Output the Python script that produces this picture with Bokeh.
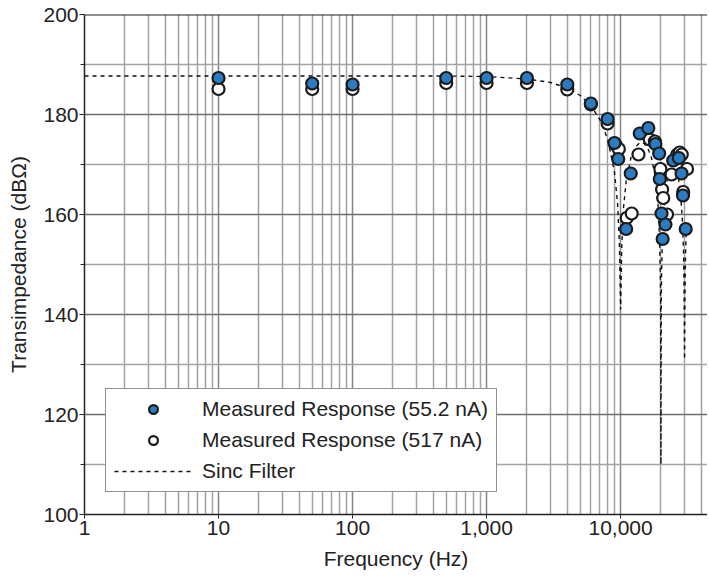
from bokeh.plotting import figure
from bokeh.models import Range1d, FixedTicker, Legend, LegendItem, Span, ColumnDataSource
from bokeh.embed import file_html
from bokeh.resources import INLINE

# ---- data ----
freq_low = [10, 50, 100, 500, 1000, 2000, 4000, 6000, 8000, 9000, 9600,
            11000, 11900, 13900, 16100, 18200, 19400, 19600, 20200, 20600,
            21600, 24700, 27200, 28500, 29200, 30600]
resp_low = [187.3, 186.2, 186.0, 187.3, 187.3, 187.3, 186.0, 182.2, 179.1, 174.3, 171.1,
            157.1, 168.2, 176.2, 177.3, 174.1, 172.2, 167.1, 160.2, 155.1,
            158.0, 170.8, 171.3, 168.2, 163.8, 157.1]

freq_high = [10, 50, 100, 500, 1000, 2000, 4000, 6000, 8000, 9200, 9700,
             11100, 12100, 13600, 16500, 18000, 19800, 20400, 20800, 22200,
             24000, 26500, 27600, 28600, 29300, 31300]
resp_high = [185.1, 185.1, 185.1, 186.3, 186.3, 186.3, 185.0, 182.0, 178.2, 173.9, 173.1,
             159.3, 160.2, 172.0, 175.0, 174.6, 169.1, 165.0, 163.3, 160.0,
             168.0, 172.0, 172.4, 172.0, 164.5, 169.1]

sinc_freq = [1, 10, 100, 500, 1000, 2000, 3000, 4000, 5000, 6000, 7000, 8000, 9000,
             9500, 9800, 9900, 10000, 10100, 10200, 10500, 11000, 12000, 13000, 14000,
             15000, 16000, 17000, 18000, 19000, 19500, 19800, 19900, 20000, 20100, 20200,
             20500, 21000, 22000, 23000, 24000, 25000, 26000, 27000, 28000, 29000, 29500,
             29800, 30000, 30200, 30500, 31000]
sinc_db = [187.7, 187.7, 187.7, 187.7, 187.6, 187.1, 186.4, 185.3, 183.8, 181.8, 179.0, 175.1, 168.5,
           162.1, 153.9, 147.8, 141.0, 147.6, 153.5, 161.2, 166.7, 171.6, 173.6, 174.4,
           174.2, 173.2, 171.3, 168.0, 162.0, 155.8, 147.8, 141.7, 110.0, 141.6, 147.6,
           155.4, 161.1, 166.3, 168.7, 169.7, 169.8, 169.0, 167.3, 164.2, 158.3, 152.2,
           144.2, 131.0, 144.1, 152.0, 157.7]

x_major_ticks = [1, 10, 100, 1000, 10000]
x_tick_labels = ["1", "10", "100", "1,000", "10,000"]
x_minor_ticks = [2, 3, 4, 5, 6, 7, 8, 9,
                 20, 30, 40, 50, 60, 70, 80, 90,
                 200, 300, 400, 500, 600, 700, 800, 900,
                 2000, 3000, 4000, 5000, 6000, 7000, 8000, 9000,
                 20000, 30000, 40000]
y_major_ticks = [100, 120, 140, 160, 180, 200]
y_minor_ticks = [110, 130, 150, 170, 190]

labels = ["Measured Response (55.2 nA)", "Measured Response (517 nA)", "Sinc Filter"]

FONT = "Liberation Sans"
TXT = "#222222"
BLUE = "#2a7bbf"

p = figure(width=707, height=578, x_axis_type="log",
           x_range=Range1d(1, 44500), y_range=Range1d(100, 200),
           output_backend="svg", toolbar_location=None,
           min_border_left=84, min_border_right=0, min_border_top=14, min_border_bottom=64)
p.outline_line_color = None
p.background_fill_color = "white"
p.border_fill_color = "white"

xt = FixedTicker(ticks=x_major_ticks, minor_ticks=x_minor_ticks)
yt = FixedTicker(ticks=y_major_ticks, minor_ticks=y_minor_ticks)
p.xaxis.ticker = xt
p.yaxis.ticker = yt
p.xgrid.ticker = xt
p.ygrid.ticker = yt
p.xaxis.major_label_overrides = dict(zip(x_major_ticks, x_tick_labels))

p.xgrid.grid_line_color = "#858585"
p.xgrid.grid_line_width = 1.5
p.xgrid.minor_grid_line_color = "#a3a3a3"
p.xgrid.minor_grid_line_width = 1.5
p.ygrid.grid_line_color = "#6e6e6e"
p.ygrid.grid_line_width = 1.5
p.ygrid.minor_grid_line_color = "#a3a3a3"
p.ygrid.minor_grid_line_width = 1.5

for ax in (p.xaxis, p.yaxis):
    ax.axis_line_color = TXT
    ax.axis_line_width = 1.5
    ax.major_tick_line_color = TXT
    ax.minor_tick_line_color = TXT
    ax.major_label_text_font = FONT
    ax.major_label_text_font_size = "21px"
    ax.major_label_text_color = TXT
    ax.axis_label_text_font = FONT
    ax.axis_label_text_font_size = "21px"
    ax.axis_label_text_font_style = "normal"
    ax.axis_label_text_color = TXT

p.xaxis.axis_label = "Frequency (Hz)"
p.xaxis.major_tick_in = 0
p.xaxis.major_tick_out = 4
p.xaxis.minor_tick_in = 0
p.xaxis.minor_tick_out = 0
p.xaxis.major_label_standoff = 2
p.xaxis.axis_label_standoff = 9

p.yaxis.axis_label = "Transimpedance (dBΩ)"
p.yaxis.major_tick_in = 0
p.yaxis.major_tick_out = 5
p.yaxis.minor_tick_in = 0
p.yaxis.minor_tick_out = 4
p.yaxis.major_label_standoff = 1
p.yaxis.axis_label_standoff = 10

p.add_layout(Span(location=200, dimension="width", line_color=TXT, line_width=2))

src_sinc = ColumnDataSource(dict(f=sinc_freq, db=sinc_db))
src_low = ColumnDataSource(dict(f=freq_low, db=resp_low))
src_high = ColumnDataSource(dict(f=freq_high, db=resp_high))

r_sinc = p.line("f", "db", source=src_sinc, line_color="#111111", line_width=1.4, line_dash="4 4")
r_high = p.scatter("f", "db", source=src_high, marker="circle", size=12,
                   fill_color="white", line_color="#1a1a1a", line_width=2.2)
r_low = p.scatter("f", "db", source=src_low, marker="circle", size=12,
                  fill_color=BLUE, line_color="#1a1a1a", line_width=2.2)

legend = Legend(items=[LegendItem(label=labels[0], renderers=[r_low]),
                       LegendItem(label=labels[1], renderers=[r_high]),
                       LegendItem(label=labels[2], renderers=[r_sinc])],
                location=(21, 22))
legend.glyph_width = 78
legend.glyph_height = 22
legend.label_height = 22
legend.label_standoff = 10
legend.spacing = 7
legend.padding = 8
legend.margin = 0
legend.label_text_font = FONT
legend.label_text_font_size = "21px"
legend.label_text_color = TXT
legend.border_line_color = TXT
legend.border_line_width = 1.5
legend.background_fill_color = "white"
legend.background_fill_alpha = 1.0
p.add_layout(legend)

open("out.html", "w").write(file_html(p, INLINE))
